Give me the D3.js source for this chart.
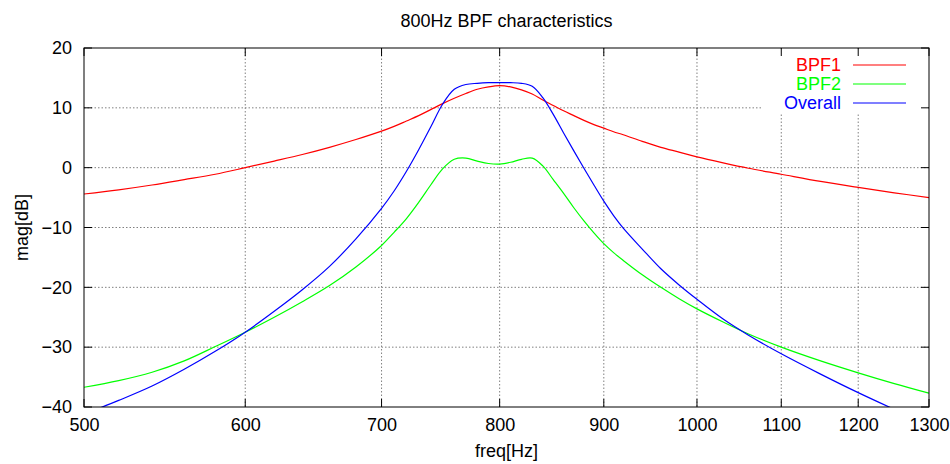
<!DOCTYPE html>
<html lang="en">
<head>
  <meta charset="utf-8">
  <title>800Hz BPF characteristics</title>
  <style>
    html,body{margin:0;background:#fff}
    svg{display:block}
    text{font-family:"Liberation Sans",Arial,sans-serif;font-size:18px;fill:#000}
    .grid line{stroke:#808080;stroke-width:1;stroke-dasharray:1.5,2}
    .tick-mark{stroke:#000;stroke-width:1}
    .curve{fill:none;stroke-width:1.2}
  </style>
  <script src="https://d3js.org/d3.v7.min.js"></script>
</head>
<body>
  <svg id="chart" width="950" height="464"></svg>
  <script>
    // frequencies [Hz] the curves were read at
    const freq=[500,520,540,560,580,600,620,640,660,680,700,710,720,730,740,750,760,770,780,790,
                800,810,820,830,840,850,860,870,880,890,900,910,920,940,960,980,1000,1030,1060,1100,1150,1200,1250,1300];
    // magnitude [dB]
    const bpf1=[-4.4,-3.7,-2.9,-2.0,-1.1,0.0,1.1,2.2,3.4,4.7,6.1,6.9,7.8,8.7,9.7,10.7,11.6,12.4,13.1,13.5,
                13.7,13.5,13.0,12.3,11.3,10.4,9.5,8.7,7.9,7.2,6.6,6.0,5.5,4.4,3.4,2.6,1.8,0.8,-0.1,-1.1,-2.3,-3.3,-4.2,-5.0];
    const bpf2=[-36.7,-35.6,-34.2,-32.3,-29.9,-27.5,-25.0,-22.4,-19.7,-16.6,-13.0,-10.8,-8.5,-5.8,-2.9,-0.2,1.4,1.6,1.1,0.7,
                0.6,0.9,1.4,1.6,0.3,-2.0,-4.3,-6.7,-8.9,-10.9,-12.7,-14.2,-15.5,-17.9,-20.0,-21.9,-23.6,-25.8,-27.8,-30.0,-32.3,-34.3,-36.1,-37.7];
    const overall=[-41.2,-38.9,-36.5,-33.7,-30.7,-27.5,-24.0,-20.4,-16.5,-11.9,-6.8,-3.9,-0.6,3.0,6.8,10.6,13.1,13.9,14.1,14.2,
                14.2,14.2,14.1,13.6,11.7,8.9,5.8,2.8,-0.1,-2.9,-5.6,-8.0,-10.1,-13.6,-16.9,-19.6,-22.0,-25.3,-28.0,-31.1,-34.5,-37.6,-40.4,-43.0];

    const xTicks=[500,600,700,800,900,1000,1100,1200,1300];
    const yTicks=[-40,-30,-20,-10,0,10,20];
    const seriesNames=['BPF1','BPF2','Overall'];
    const seriesColors=['#ff0000','#00ff00','#0000ff'];

    const L=84,R=929,T=48,B=407;
    const svg=d3.select('#chart');
    const x=d3.scaleLog().domain([500,1300]).range([L,R]);
    const y=d3.scaleLinear().domain([-40,20]).range([B,T]);

    svg.append('defs').append('clipPath').attr('id','plotclip')
       .append('rect').attr('x',L).attr('y',T).attr('width',R-L).attr('height',B-T);

    // grid
    const grid=svg.append('g').attr('class','grid');
    grid.selectAll('.gx').data(xTicks.slice(1,-1)).enter().append('line')
        .attr('x1',d=>x(d)).attr('x2',d=>x(d)).attr('y1',T).attr('y2',B);
    grid.selectAll('.gy').data(yTicks.slice(1,-1)).enter().append('line')
        .attr('y1',d=>y(d)).attr('y2',d=>y(d)).attr('x1',L).attr('x2',R);

    // key background hides the grid behind it
    svg.append('rect').attr('x',762).attr('y',T+1).attr('width',R-762-1).attr('height',64).attr('fill','#fff');

    // axes: labels + inward ticks on all four sides
    const axisBottom=d3.axisBottom(x).tickValues(xTicks).tickFormat(d3.format('d')).tickSize(0).tickPadding(17);
    const gb=svg.append('g').attr('transform',`translate(0,${B})`).call(axisBottom);
    gb.select('.domain').remove();
    gb.selectAll('text').style('font-size','18px').style('font-family','"Liberation Sans",Arial,sans-serif').attr('dy','0.71em').attr('y',11);

    const axisLeft=d3.axisLeft(y).tickValues(yTicks).tickSize(0).tickPadding(12);
    const gl=svg.append('g').attr('transform',`translate(${L},0)`).call(axisLeft);
    gl.select('.domain').remove();
    gl.selectAll('text').style('font-size','18px').style('font-family','"Liberation Sans",Arial,sans-serif');

    const tk=svg.append('g');
    xTicks.forEach(v=>{
      tk.append('line').attr('class','tick-mark').attr('x1',x(v)).attr('x2',x(v)).attr('y1',B).attr('y2',B-8);
      tk.append('line').attr('class','tick-mark').attr('x1',x(v)).attr('x2',x(v)).attr('y1',T).attr('y2',T+8);
    });
    yTicks.forEach(v=>{
      tk.append('line').attr('class','tick-mark').attr('x1',L).attr('x2',L+8).attr('y1',y(v)).attr('y2',y(v));
      tk.append('line').attr('class','tick-mark').attr('x1',R).attr('x2',R-8).attr('y1',y(v)).attr('y2',y(v));
    });

    // curves
    const line=d3.line().x(d=>x(d[0])).y(d=>y(d[1])).curve(d3.curveCatmullRom.alpha(0.5));
    const plot=svg.append('g').attr('clip-path','url(#plotclip)');
    [bpf1,bpf2,overall].forEach((s,i)=>{
      plot.append('path').attr('class','curve').attr('stroke',seriesColors[i])
          .attr('d',line(freq.map((f,j)=>[f,s[j]])));
    });

    // border
    svg.append('rect').attr('x',L).attr('y',T).attr('width',R-L).attr('height',B-T)
       .attr('fill','none').attr('stroke','#000').attr('stroke-width',1);

    // key
    const key=svg.append('g');
    seriesNames.forEach((n,i)=>{
      const ky=65+i*19;
      key.append('text').attr('x',841).attr('y',ky).attr('dy','0.36em').attr('text-anchor','end')
         .style('fill',seriesColors[i]).text(n);
      key.append('line').attr('x1',853).attr('x2',906).attr('y1',ky).attr('y2',ky)
         .attr('stroke',seriesColors[i]).attr('stroke-width',1.2);
    });

    // titles
    svg.append('text').attr('x',(L+R)/2).attr('y',26.5).attr('text-anchor','middle').text('800Hz BPF characteristics');
    svg.append('text').attr('x',(L+R)/2).attr('y',457).attr('text-anchor','middle').text('freq[Hz]');
    svg.append('text').attr('transform',`translate(22,${(T+B)/2}) rotate(-90)`).attr('dy','0.36em')
       .attr('text-anchor','middle').text('mag[dB]');
  </script>
</body>
</html>
